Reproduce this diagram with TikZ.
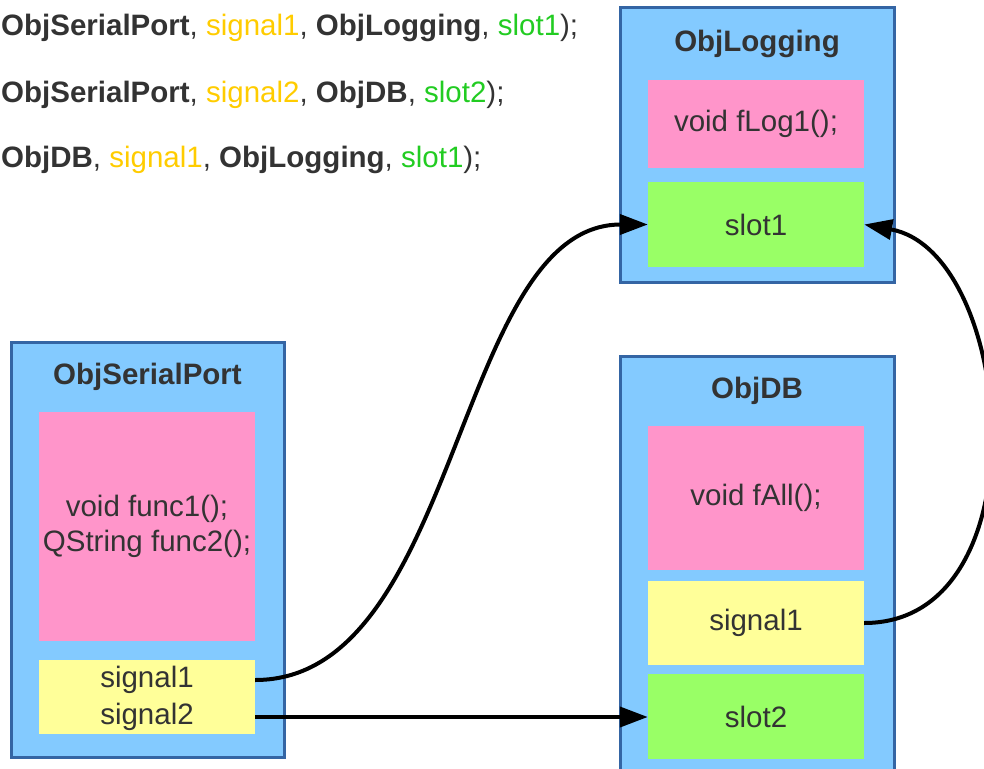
\documentclass[tikz,border=0pt]{standalone}
\usepackage{fontspec}
\setmainfont{Liberation Sans}
\usetikzlibrary{arrows.meta,calc}
\definecolor{txt}{HTML}{333333}
\definecolor{sigc}{HTML}{FFCC00}
\definecolor{slotc}{HTML}{22CC22}
\definecolor{objfill}{HTML}{83CAFF}
\definecolor{objdraw}{HTML}{3465A4}
\definecolor{pinkc}{HTML}{FF95CA}
\definecolor{yellc}{HTML}{FFFF99}
\definecolor{greenc}{HTML}{99FF66}
\tikzset{
  objbox/.style={draw=objdraw, fill=objfill, line width=3pt, inner sep=0pt},
  part/.style={inner sep=0pt, minimum width=216pt, text=txt, align=center},
  pinkpart/.style={part, fill=pinkc},
  yellpart/.style={part, fill=yellc},
  greenpart/.style={part, fill=greenc},
  title/.style={anchor=base, inner sep=0pt, text=txt, font=\fontsize{29.5}{35.4}\selectfont\bfseries},
  codeline/.style={anchor=base west, inner sep=0pt, text=txt},
  plain/.style={inner sep=0pt, text=txt},
  conn/.style={line width=4pt, -{Triangle[length=28pt,width=20pt]}},
}
\begin{document}
\begin{tikzpicture}[x=1pt,y=-1pt,font=\fontsize{29.5}{35.4}\selectfont]
\useasboundingbox (0,0) rectangle (984,768);
\clip (0,0) rectangle (984,768);
% code lines
\node[codeline] (c1) at (1,36) {\textbf{ObjSerialPort}, \textcolor{sigc}{signal1}, \textbf{ObjLogging}, \textcolor{slotc}{slot1});};
\node[codeline] (c2) at (1,102) {\textbf{ObjSerialPort}, \textcolor{sigc}{signal2}, \textbf{ObjDB}, \textcolor{slotc}{slot2});};
\node[codeline] (c3) at (1,167) {\textbf{ObjDB}, \textcolor{sigc}{signal1}, \textbf{ObjLogging}, \textcolor{slotc}{slot1});};
% ObjLogging
\node[objbox, minimum width=274pt, minimum height=274pt] (logbox) at (757,145) {};
\node[title] (logt) at (757,52) {ObjLogging};
\node[pinkpart, minimum height=88pt] (logf) at (756,124) {void fLog1();};
\node[greenpart, minimum height=85pt] (logs) at (756,224.5) {slot1};
% ObjSerialPort
\node[objbox, minimum width=273pt, minimum height=415pt] (serbox) at (147.5,549.5) {};
\node[title] (sert) at (147.5,384) {ObjSerialPort};
\node[pinkpart, minimum height=229pt] (serf) at (147,526.5) {void func1();\\QString func2();};
\node[yellpart, minimum height=74pt] (sers) at (147,697) {};
\node[plain] (sig1) at (147,680) {signal1};
\node[plain] (sig2) at (147,717) {signal2};
% ObjDB
\node[objbox, minimum width=274pt, minimum height=434pt] (dbbox) at (757,573) {};
\node[title] (dbt) at (757,398) {ObjDB};
\node[pinkpart, minimum height=144pt] (dbf) at (756,498) {void fAll();};
\node[yellpart, minimum height=84pt] (dbs) at (756,623) {signal1};
\node[greenpart, minimum height=85pt] (dbslot) at (756,716.5) {slot2};
% connectors
\draw[conn] (sers.east |- sig1) .. controls (460,680) and (455,224.5) .. (logs.west);
\draw[conn] (sers.east |- sig2) -- (dbslot.west |- sig2);
\draw[conn] (dbs.east) .. controls (1045,623) and (1015,252) .. (logs.east);
\end{tikzpicture}
\end{document}
